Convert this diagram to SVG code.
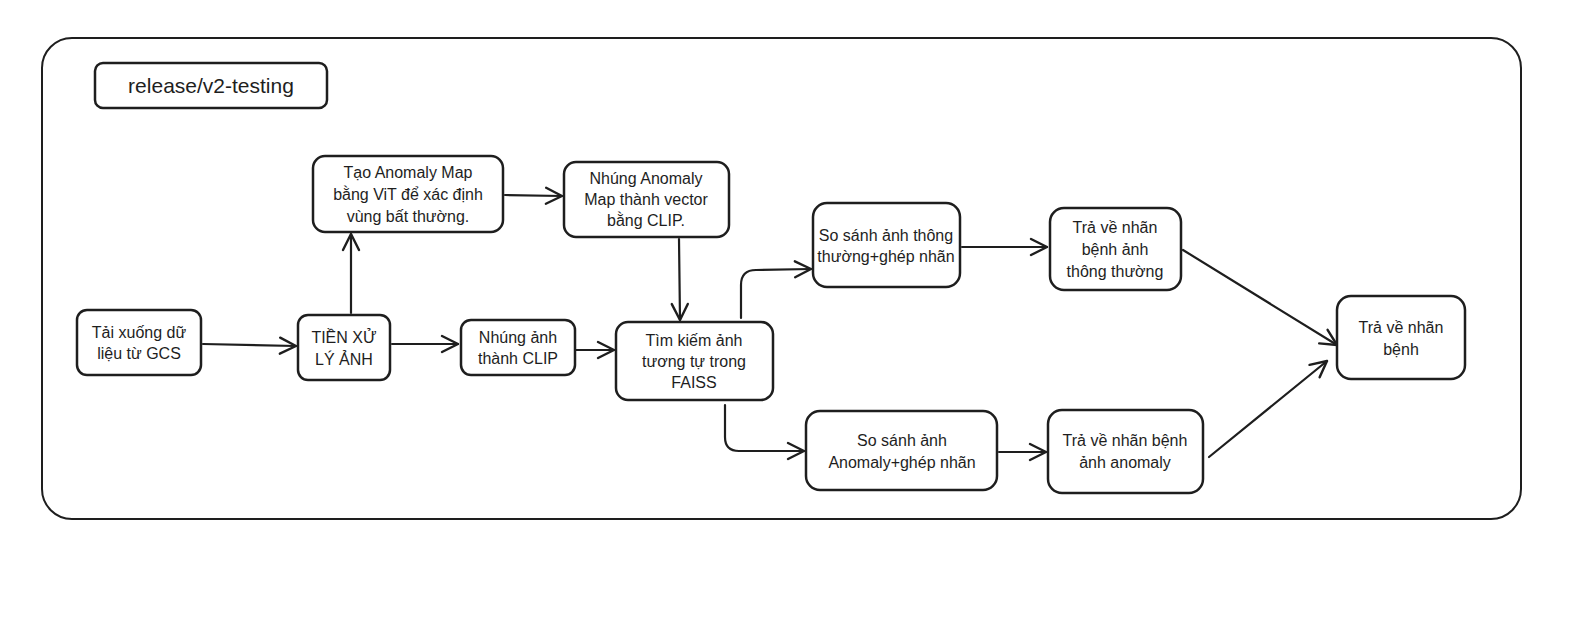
<svg xmlns="http://www.w3.org/2000/svg" width="1596" height="634" viewBox="0 0 1596 634">
<style>
.box{fill:#fff;stroke:#1e1e1e;stroke-width:2.5}
.frame{fill:none;stroke:#1e1e1e;stroke-width:2}
.t{font-family:"Liberation Sans","Noto Sans",sans-serif;font-size:16px;fill:#1e1e1e;text-anchor:middle;dominant-baseline:central}
.ttl{font-family:"Liberation Sans","Noto Sans",sans-serif;font-size:21px;fill:#1e1e1e;text-anchor:middle;dominant-baseline:central}
.c{fill:none;stroke:#1e1e1e;stroke-width:2.2;stroke-linecap:round;stroke-linejoin:round}
</style>
<defs>
<marker id="ah" markerUnits="userSpaceOnUse" viewBox="0 0 20 20" refX="18" refY="10" markerWidth="20" markerHeight="20" orient="auto">
<path d="M2,2 L18,10 L2,18" fill="none" stroke="#1e1e1e" stroke-width="2.4" stroke-linecap="round" stroke-linejoin="round"/>
</marker>
</defs>
<rect width="1596" height="634" fill="#fff"/>
<g id="frame">
<rect class="frame" x="42" y="38" width="1479" height="481" rx="30"/>
</g>
<g id="title">
<rect class="box" x="95" y="63" width="232" height="45" rx="8" stroke-width="2"/>
<text class="ttl" x="211" y="85">release/v2-testing</text>
</g>
<g id="connectors">
<path class="c" d="M203,344 L296,346" marker-end="url(#ah)"/>
<path class="c" d="M351,313 L351,234" marker-end="url(#ah)"/>
<path class="c" d="M392,344 L458,344" marker-end="url(#ah)"/>
<path class="c" d="M505,195 L562,196" marker-end="url(#ah)"/>
<path class="c" d="M679,239 L680,320" marker-end="url(#ah)" stroke-width="3"/>
<path class="c" d="M576,350 L614,350" marker-end="url(#ah)" stroke-width="3"/>
<path class="c" d="M741,318 L741,285 Q741,270 756,270 L811,269" marker-end="url(#ah)"/>
<path class="c" d="M725,405 L725,437 Q725,451 739,451 L804,451" marker-end="url(#ah)"/>
<path class="c" d="M962,247 L1047,247" marker-end="url(#ah)" stroke-width="3"/>
<path class="c" d="M999,452 L1046,452" marker-end="url(#ah)" stroke-width="3"/>
<path class="c" d="M1183,250 L1337,345" marker-end="url(#ah)"/>
<path class="c" d="M1209,457 L1327,361" marker-end="url(#ah)"/>
</g>
<g id="n1">
<rect class="box" x="77" y="310" width="124" height="65" rx="10"/>
<text class="t" x="139" y="332">Tải xuống dữ</text>
<text class="t" x="139" y="353">liệu từ GCS</text>
</g>
<g id="n2">
<rect class="box" x="298" y="315" width="92" height="65" rx="10"/>
<text class="t" x="344" y="337">TIỀN XỬ</text>
<text class="t" x="344" y="359">LÝ ẢNH</text>
</g>
<g id="n3">
<rect class="box" x="313" y="156" width="190" height="76" rx="12"/>
<text class="t" x="408" y="172">Tạo Anomaly Map</text>
<text class="t" x="408" y="194">bằng ViT để xác định</text>
<text class="t" x="408" y="216">vùng bất thường.</text>
</g>
<g id="n4">
<rect class="box" x="564" y="162" width="165" height="75" rx="12"/>
<text class="t" x="646" y="178">Nhúng Anomaly</text>
<text class="t" x="646" y="199">Map thành vector</text>
<text class="t" x="646" y="220">bằng CLIP.</text>
</g>
<g id="n5">
<rect class="box" x="461" y="320" width="114" height="55" rx="10"/>
<text class="t" x="518" y="337">Nhúng ảnh</text>
<text class="t" x="518" y="358">thành CLIP</text>
</g>
<g id="n6">
<rect class="box" x="616" y="322" width="157" height="78" rx="12"/>
<text class="t" x="694" y="340">Tìm kiếm ảnh</text>
<text class="t" x="694" y="361">tương tự trong</text>
<text class="t" x="694" y="382">FAISS</text>
</g>
<g id="n7">
<rect class="box" x="813" y="203" width="147" height="84" rx="14"/>
<text class="t" x="886" y="235">So sánh ảnh thông</text>
<text class="t" x="886" y="256">thường+ghép nhãn</text>
</g>
<g id="n8">
<rect class="box" x="1050" y="208" width="131" height="82" rx="14"/>
<text class="t" x="1115" y="227">Trả về nhãn</text>
<text class="t" x="1115" y="249">bệnh ảnh</text>
<text class="t" x="1115" y="271">thông thường</text>
</g>
<g id="n9">
<rect class="box" x="1337" y="296" width="128" height="83" rx="14"/>
<text class="t" x="1401" y="327">Trả về nhãn</text>
<text class="t" x="1401" y="349">bệnh</text>
</g>
<g id="n10">
<rect class="box" x="806" y="411" width="191" height="79" rx="14"/>
<text class="t" x="902" y="440">So sánh ảnh</text>
<text class="t" x="902" y="462">Anomaly+ghép nhãn</text>
</g>
<g id="n11">
<rect class="box" x="1048" y="410" width="155" height="83" rx="14"/>
<text class="t" x="1125" y="440">Trả về nhãn bệnh</text>
<text class="t" x="1125" y="462">ảnh anomaly</text>
</g>
</svg>
